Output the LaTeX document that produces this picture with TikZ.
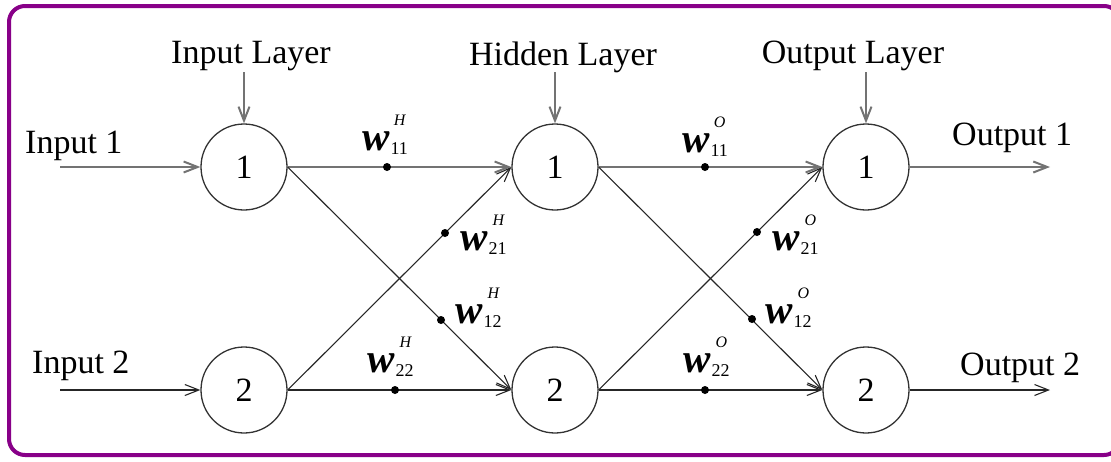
\documentclass[tikz,border=0pt]{standalone}
\usepackage{fontspec}
\setmainfont{Liberation Serif}
\usetikzlibrary{arrows.meta}
\definecolor{framepurple}{RGB}{136,0,136}
\newcommand{\wlab}[2]{{\fontsize{41}{41}\selectfont\bfseries\itshape w}\kern1pt\raisebox{-4pt}{\fontsize{18}{18}\selectfont #2}\kern-14pt\raisebox{25pt}{\fontsize{16}{16}\selectfont\itshape #1}}
\begin{document}
\begin{tikzpicture}[x=1pt,y=-1pt,
  neuron/.style={circle,draw=black!80,line width=1.3pt,minimum size=86pt,inner sep=0pt,font=\fontsize{34}{34}\selectfont},
  lbl/.style={font=\fontsize{34}{34}\selectfont,inner sep=0pt},
  conn/.style={line width=1.1pt,draw=black!85,-{Straight Barb[length=14pt,width=11pt]}},
  hconn/.style={conn,draw=black!55,line width=2pt},
  wdot/.style={circle,fill=black,inner sep=0pt,minimum size=8pt},
  wl/.style={inner sep=0pt,anchor=base west}]
\useasboundingbox (0,0) rectangle (1111,461);
\begin{scope}
\clip (0,0) rectangle (1111,461);
\draw[framepurple,line width=4pt,rounded corners=16pt] (9,6) rectangle (1120,455);
\end{scope}
% neurons
\node[neuron] (I1) at (244,167) {1};
\node[neuron] (I2) at (244,390) {2};
\node[neuron] (H1) at (555,167) {1};
\node[neuron] (H2) at (555,390) {2};
\node[neuron] (O1) at (866,167) {1};
\node[neuron] (O2) at (866,390) {2};
% layer labels
\node[lbl,anchor=base] (LI) at (251,63) {Input Layer};
\node[lbl,anchor=base] (LH) at (563,65) {Hidden Layer};
\node[lbl,anchor=base] (LO) at (853,63) {Output Layer};
\coordinate (aI) at (244,72);
\coordinate (aH) at (555,72);
\coordinate (aO) at (866,72);
\draw[hconn] (aI) -- (I1.north);
\draw[hconn] (aH) -- (H1.north);
\draw[hconn] (aO) -- (O1.north);
% inputs and outputs
\node[lbl,anchor=base west] (in1) at (25,153) {Input 1};
\node[lbl,anchor=base west] (in2) at (32,373) {Input 2};
\node[lbl,anchor=base west] (out1) at (952,145) {Output 1};
\node[lbl,anchor=base west] (out2) at (960,375) {Output 2};
\coordinate (s1) at (60,167);
\coordinate (s2) at (60,390);
\coordinate (e1) at (1050,167);
\coordinate (e2) at (1050,390);
\draw[hconn] (s1) -- (I1.west);
\draw[conn] (s2) -- (I2.west);
\draw[hconn] (O1.east) -- (e1);
\draw[conn] (O2.east) -- (e2);
% connections
\draw[hconn] (I1.east) -- (H1.west);
\draw[conn] (I1.east) -- (H2.west);
\draw[conn] (I2.east) -- (H1.west);
\draw[conn] (I2.east) -- (H2.west);
\draw[hconn] (H1.east) -- (O1.west);
\draw[conn] (H1.east) -- (O2.west);
\draw[conn] (H2.east) -- (O1.west);
\draw[conn] (H2.east) -- (O2.west);
% weight dots
\node[wdot] (d11h) at (387,167) {};
\node[wdot] (d21h) at (445,233) {};
\node[wdot] (d12h) at (441,320) {};
\node[wdot] (d22h) at (395,390) {};
\node[wdot] (d11o) at (705,167) {};
\node[wdot] (d21o) at (757,232) {};
\node[wdot] (d12o) at (752,319) {};
\node[wdot] (d22o) at (705,390) {};
% weight labels
\node[wl] (w11h) at (362,150) {\wlab{H}{11}};
\node[wl] (w21h) at (460,250) {\wlab{H}{21}};
\node[wl] (w12h) at (455,323) {\wlab{H}{12}};
\node[wl] (w22h) at (367,372) {\wlab{H}{22}};
\node[wl] (w11o) at (682,152) {\wlab{O}{11}};
\node[wl] (w21o) at (772,250) {\wlab{O}{21}};
\node[wl] (w12o) at (765,323) {\wlab{O}{12}};
\node[wl] (w22o) at (683,372) {\wlab{O}{22}};
\end{tikzpicture}
\end{document}
